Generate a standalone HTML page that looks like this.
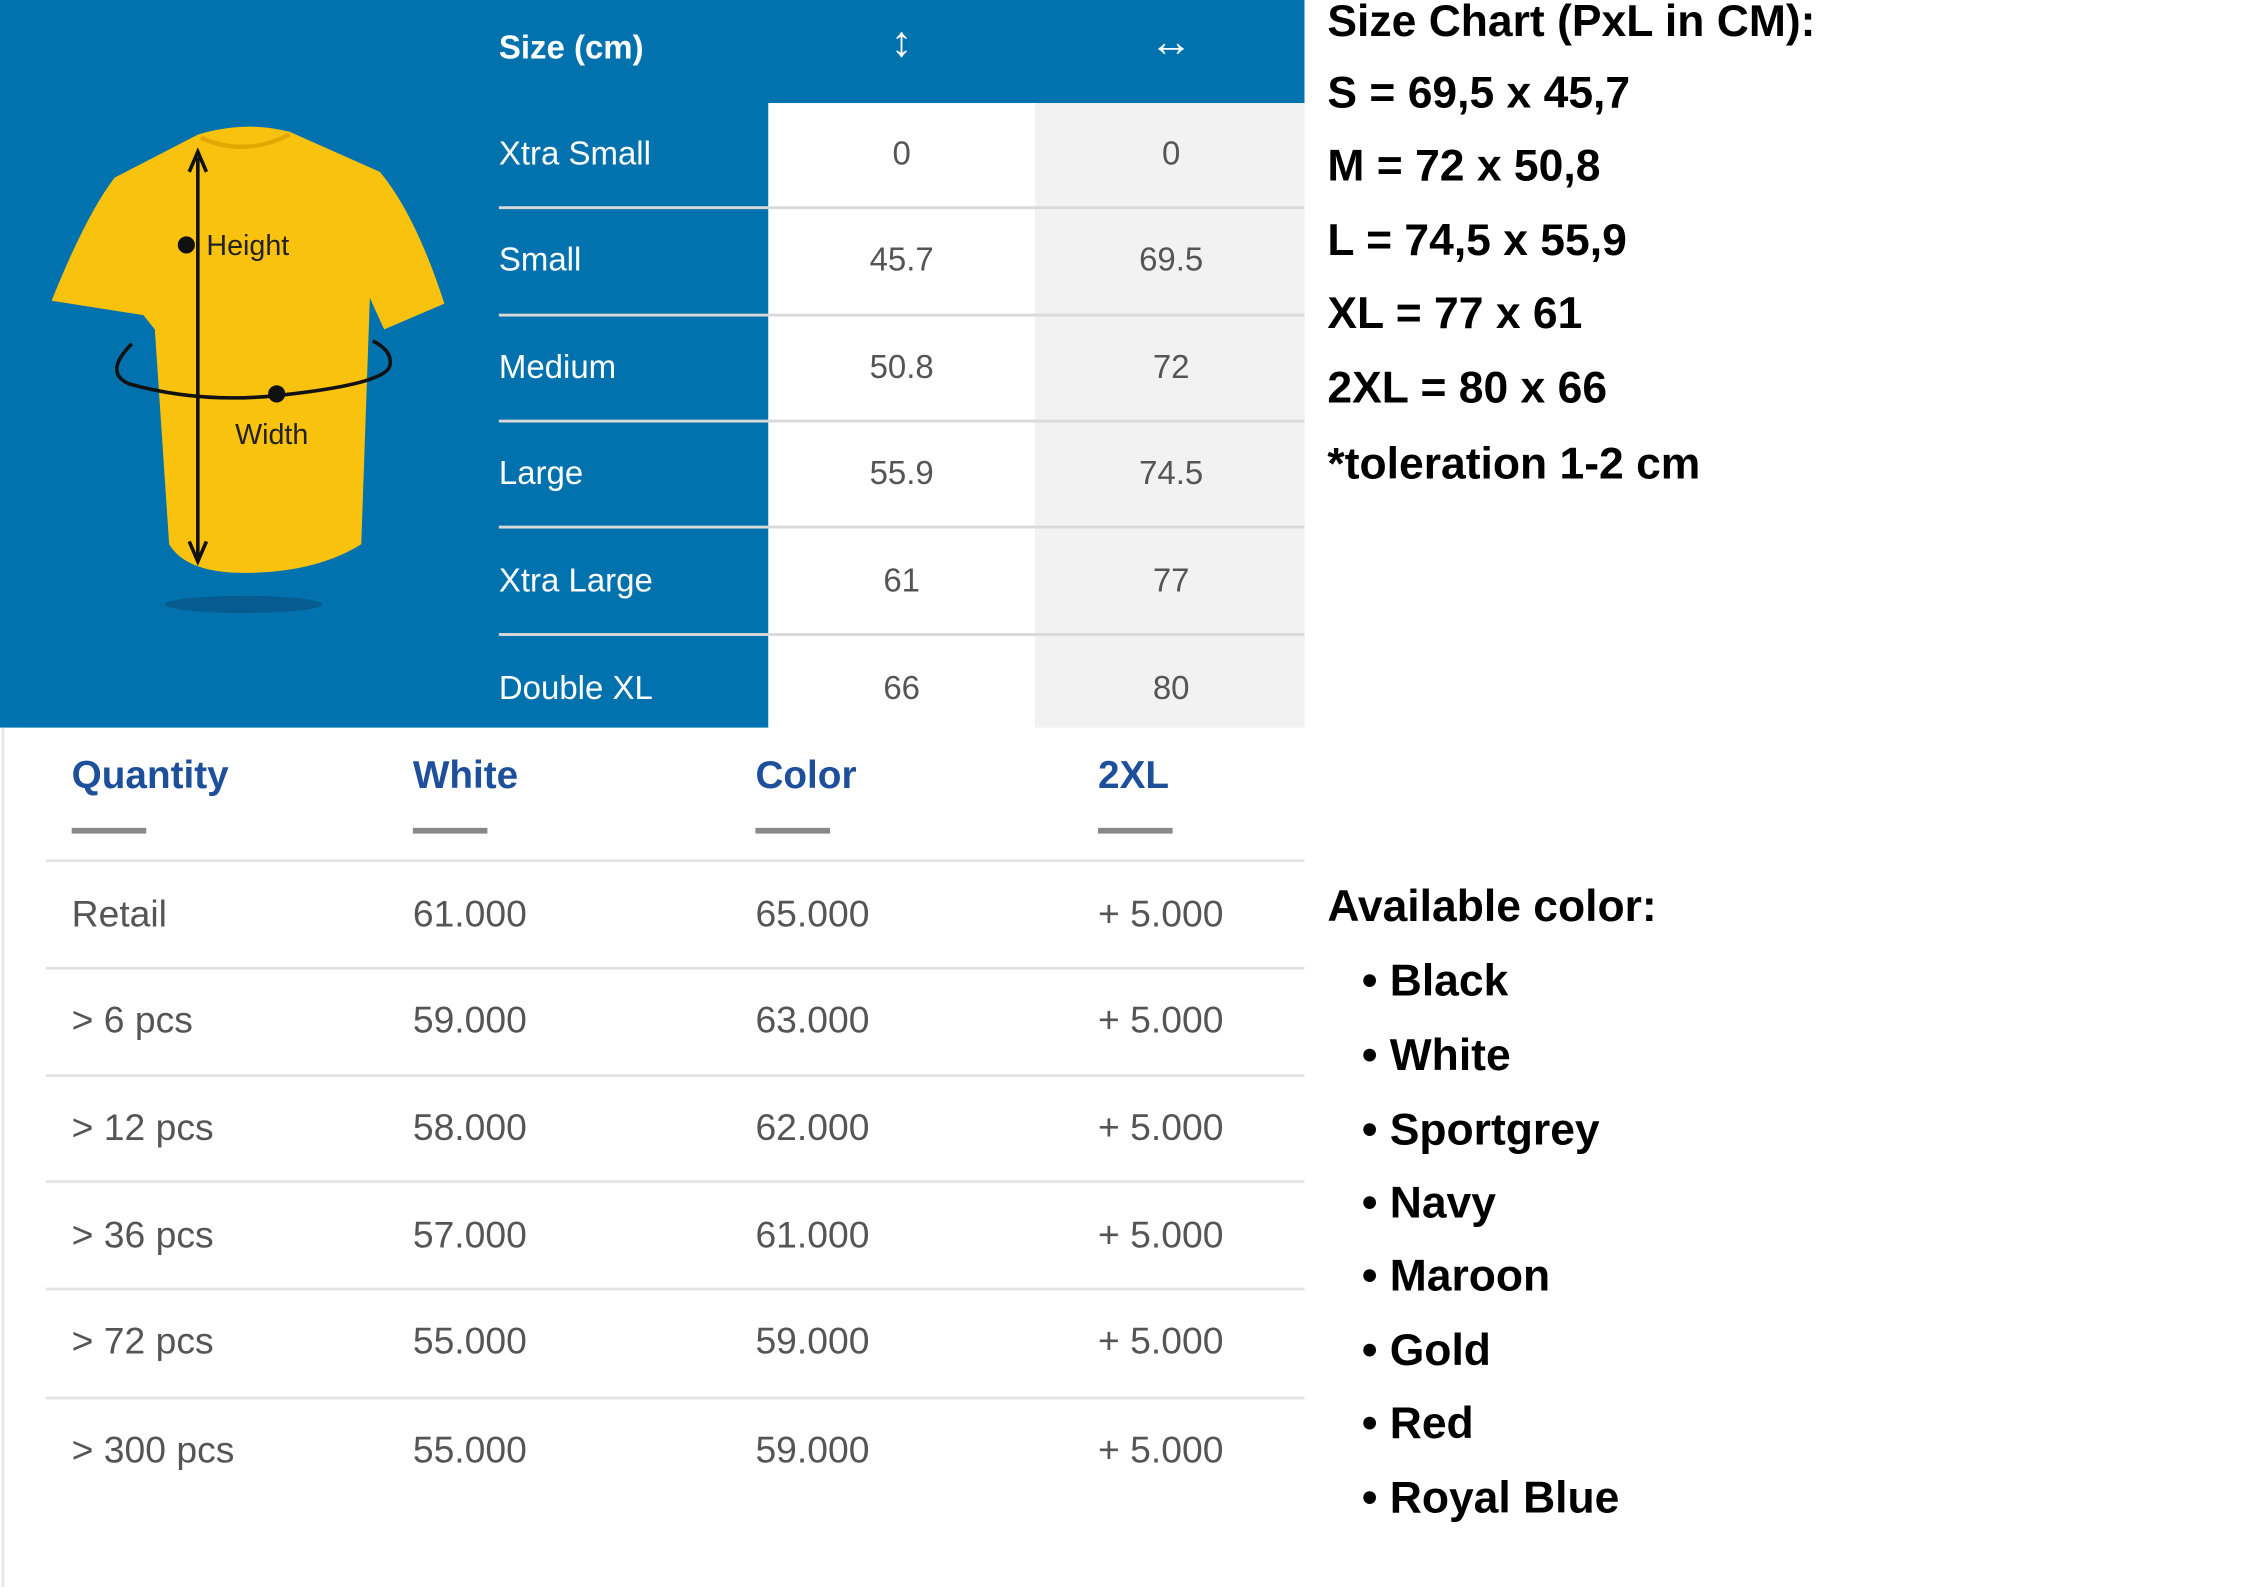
<!DOCTYPE html>
<html><head><meta charset="utf-8">
<style>
html,body{margin:0;padding:0;background:#fff;overflow:hidden;width:2245px;height:1587px}
#stage{position:absolute;left:0;top:0;width:1566px;height:1108px;transform-origin:0 0;transform:scale(1.4335,1.4323);font-family:"Liberation Sans",sans-serif}
.abs{position:absolute}
.blue{background:#0272ae}
.lbl{position:absolute;left:348px;color:#fff;font-size:23px;line-height:24px}
.val{position:absolute;width:186px;text-align:center;color:#555;font-size:23px;line-height:24px}
.sep{position:absolute;left:348px;width:562px;height:2px;background:#d9d9d9}
.hd{position:absolute;color:#1d4f9b;font-weight:bold;font-size:27px;line-height:28px}
.ul{position:absolute;top:578px;width:52px;height:4px;background:#888}
.cell{position:absolute;color:#555;font-size:26px;line-height:28px}
.rs{position:absolute;left:32px;width:878px;height:2px;background:#e3e3e3}
.rt{position:absolute;left:926px;color:#000;font-weight:bold;font-size:31px;line-height:34px;white-space:nowrap}
.li{position:absolute;left:950px;color:#000;font-weight:bold;font-size:31px;line-height:34px;white-space:nowrap}
</style></head><body>
<div id="stage">
  <div class="abs blue" style="left:0;top:0;width:910px;height:72px"></div>
  <div class="abs blue" style="left:0;top:0;width:536px;height:508px"></div>
  <div class="abs" style="left:536px;top:72px;width:186px;height:436px;background:#fff"></div>
  <div class="abs" style="left:722px;top:72px;width:188px;height:436px;background:#f2f2f2"></div>

  <svg class="abs" style="left:20px;top:80px" width="310" height="360">
    <ellipse cx="150" cy="342" rx="55" ry="6" fill="#0a4f7a" opacity="0.6"/>
    <path d="M118 14 Q150 4 182 12 L245 40 Q270 70 290 132 L248 150 L238 128 L232 300 Q200 320 150 320 Q110 320 98 300 L88 150 L80 140 L16 130 Q40 70 60 44 Z" fill="#f9c20f"/>
    <path d="M120 16 Q150 30 182 14" stroke="#e0a800" stroke-width="3" fill="none"/>
    <line x1="118" y1="30" x2="118" y2="310" stroke="#111" stroke-width="2.5"/>
    <path d="M112 40 L118 26 L124 40 M112 298 L118 312 L124 298" stroke="#111" stroke-width="2.5" fill="none"/>
    <circle cx="110" cy="91" r="6" fill="#111"/>
    <text x="124" y="98" font-family="Liberation Sans,sans-serif" font-size="20" fill="#222">Height</text>
    <path d="M72 160 Q52 180 70 188 Q120 202 175 196 Q250 188 252 175 Q254 165 240 158" stroke="#111" stroke-width="2.5" fill="none"/>
    <circle cx="173" cy="195" r="6" fill="#111"/>
    <text x="144" y="230" font-family="Liberation Sans,sans-serif" font-size="20" fill="#222">Width</text>
  </svg>

  <div class="lbl" style="top:21px;font-weight:bold">Size (cm)</div>
  <div class="val" style="left:536px;top:18px;color:#fff;font-weight:bold;font-size:30px">↕</div>
  <div class="val" style="left:724px;top:18px;color:#fff;font-weight:bold;font-size:30px">↔</div>

  <div class="lbl" style="top:95px">Xtra Small</div>
  <div class="val" style="left:536px;top:95px">0</div>
  <div class="val" style="left:724px;top:95px">0</div>
  <div class="sep" style="top:144px"></div>

  <div class="lbl" style="top:169px">Small</div>
  <div class="val" style="left:536px;top:169px">45.7</div>
  <div class="val" style="left:724px;top:169px">69.5</div>
  <div class="sep" style="top:219px"></div>

  <div class="lbl" style="top:244px">Medium</div>
  <div class="val" style="left:536px;top:244px">50.8</div>
  <div class="val" style="left:724px;top:244px">72</div>
  <div class="sep" style="top:293px"></div>

  <div class="lbl" style="top:318px">Large</div>
  <div class="val" style="left:536px;top:318px">55.9</div>
  <div class="val" style="left:724px;top:318px">74.5</div>
  <div class="sep" style="top:367px"></div>

  <div class="lbl" style="top:393px">Xtra Large</div>
  <div class="val" style="left:536px;top:393px">61</div>
  <div class="val" style="left:724px;top:393px">77</div>
  <div class="sep" style="top:442px"></div>

  <div class="lbl" style="top:468px">Double XL</div>
  <div class="val" style="left:536px;top:468px">66</div>
  <div class="val" style="left:724px;top:468px">80</div>

  <div class="abs" style="left:1px;top:508px;width:2px;height:600px;background:#e6e6e6"></div>
  <div class="hd" style="left:50px;top:527px">Quantity</div>
  <div class="hd" style="left:288px;top:527px">White</div>
  <div class="hd" style="left:527px;top:527px">Color</div>
  <div class="hd" style="left:766px;top:527px">2XL</div>
  <div class="ul" style="left:50px"></div>
  <div class="ul" style="left:288px"></div>
  <div class="ul" style="left:527px"></div>
  <div class="ul" style="left:766px"></div>

  <div class="rs" style="top:600px"></div>
  <div class="cell" style="left:50px;top:624px">Retail</div>
  <div class="cell" style="left:288px;top:624px">61.000</div>
  <div class="cell" style="left:527px;top:624px">65.000</div>
  <div class="cell" style="left:766px;top:624px">+ 5.000</div>

  <div class="rs" style="top:675px"></div>
  <div class="cell" style="left:50px;top:698px">&gt; 6 pcs</div>
  <div class="cell" style="left:288px;top:698px">59.000</div>
  <div class="cell" style="left:527px;top:698px">63.000</div>
  <div class="cell" style="left:766px;top:698px">+ 5.000</div>

  <div class="rs" style="top:750px"></div>
  <div class="cell" style="left:50px;top:773px">&gt; 12 pcs</div>
  <div class="cell" style="left:288px;top:773px">58.000</div>
  <div class="cell" style="left:527px;top:773px">62.000</div>
  <div class="cell" style="left:766px;top:773px">+ 5.000</div>

  <div class="rs" style="top:824px"></div>
  <div class="cell" style="left:50px;top:848px">&gt; 36 pcs</div>
  <div class="cell" style="left:288px;top:848px">57.000</div>
  <div class="cell" style="left:527px;top:848px">61.000</div>
  <div class="cell" style="left:766px;top:848px">+ 5.000</div>

  <div class="rs" style="top:899px"></div>
  <div class="cell" style="left:50px;top:922px">&gt; 72 pcs</div>
  <div class="cell" style="left:288px;top:922px">55.000</div>
  <div class="cell" style="left:527px;top:922px">59.000</div>
  <div class="cell" style="left:766px;top:922px">+ 5.000</div>

  <div class="rs" style="top:975px"></div>
  <div class="cell" style="left:50px;top:998px">&gt; 300 pcs</div>
  <div class="cell" style="left:288px;top:998px">55.000</div>
  <div class="cell" style="left:527px;top:998px">59.000</div>
  <div class="cell" style="left:766px;top:998px">+ 5.000</div>

  <div class="rt" style="top:-2px">Size Chart (PxL in CM):</div>
  <div class="rt" style="top:48px">S = 69,5 x 45,7</div>
  <div class="rt" style="top:99px">M = 72 x 50,8</div>
  <div class="rt" style="top:151px">L = 74,5 x 55,9</div>
  <div class="rt" style="top:202px">XL = 77 x 61</div>
  <div class="rt" style="top:254px">2XL = 80 x 66</div>
  <div class="rt" style="top:307px">*toleration 1-2 cm</div>

  <div class="rt" style="top:616px">Available color:</div>
  <div class="li" style="top:668px">• Black</div>
  <div class="li" style="top:720px">• White</div>
  <div class="li" style="top:772px">• Sportgrey</div>
  <div class="li" style="top:823px">• Navy</div>
  <div class="li" style="top:874px">• Maroon</div>
  <div class="li" style="top:926px">• Gold</div>
  <div class="li" style="top:977px">• Red</div>
  <div class="li" style="top:1029px">• Royal Blue</div>
</div>
</body></html>
